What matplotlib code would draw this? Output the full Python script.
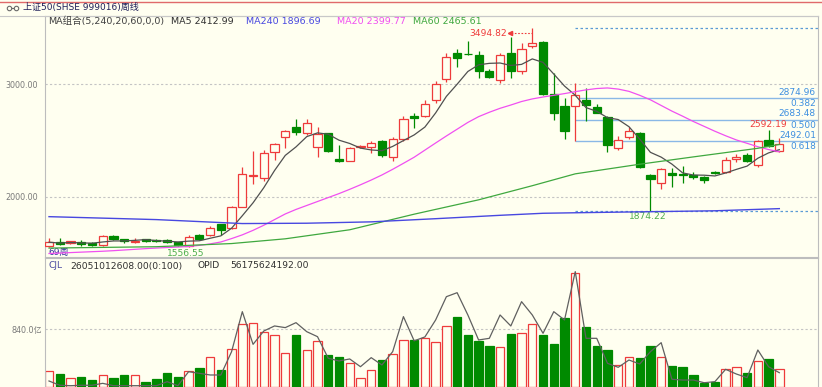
import matplotlib
matplotlib.use('Agg')
import matplotlib.pyplot as plt
from matplotlib.lines import Line2D
import numpy as np
import pandas as pd

plt.rcParams['font.family'] = ['DejaVu Sans', 'Noto Sans CJK SC']

# weekly candles, 上证50 (69 weeks)
opens = [1565, 1605, 1590, 1605, 1597, 1575, 1655, 1625, 1605, 1625,
         1622, 1617, 1600, 1566, 1660, 1664, 1758, 1723, 1914, 2190,
         2166, 2396, 2534, 2617, 2569, 2445, 2564, 2333, 2319, 2440,
         2445, 2498, 2351, 2511, 2717, 2717, 2862, 3042, 3277, 3268,
         3257, 3118, 3035, 3271, 3118, 3336, 3369, 2911, 2805, 2805,
         2858, 2799, 2705, 2431, 2528, 2564, 2195, 2127, 2210, 2205,
         2195, 2174, 2225, 2224, 2339, 2372, 2283, 2504, 2410]
highs = [1635, 1635, 1610, 1620, 1600, 1660, 1665, 1632, 1635, 1630,
         1628, 1625, 1605, 1665, 1670, 1746, 1765, 1920, 2263, 2410,
         2416, 2480, 2590, 2690, 2688, 2617, 2570, 2460, 2440, 2460,
         2500, 2505, 2535, 2715, 2740, 2858, 3030, 3271, 3310, 3380,
         3295, 3130, 3270, 3413, 3360, 3494.82, 3380, 3095, 2873, 3006,
         2962, 2823, 2715, 2540, 2622, 2575, 2200, 2260, 2254, 2274,
         2220, 2185, 2232, 2355, 2380, 2385, 2505, 2592.19, 2522]
lows = [1560, 1575, 1585, 1570, 1565, 1570, 1620, 1595, 1590, 1605,
        1605, 1590, 1565, 1556.55, 1620, 1655, 1665, 1715, 1910, 2115,
        2144, 2330, 2436, 2549, 2550, 2357, 2400, 2310, 2315, 2430,
        2387, 2355, 2321, 2500, 2610, 2705, 2835, 3020, 3148, 3255,
        3050, 3050, 3006, 3050, 3088, 3316, 2900, 2681, 2511, 2492,
        2675, 2740, 2401, 2416, 2515, 2260, 1874.22, 2068, 2086, 2121,
        2160, 2121, 2205, 2215, 2312, 2310, 2262, 2440, 2401]
closes = [1600, 1585, 1607, 1585, 1578, 1655, 1630, 1608, 1612, 1610,
          1612, 1602, 1575, 1648, 1626, 1723, 1708, 1914, 2201, 2198,
          2392, 2466, 2584, 2578, 2652, 2557, 2407, 2321, 2431, 2448,
          2475, 2374, 2511, 2688, 2699, 2823, 3000, 3242, 3227, 3262,
          3118, 3065, 3257, 3118, 3310, 3360, 2911, 2741, 2587, 2903,
          2814, 2746, 2460, 2504, 2587, 2268, 2157, 2248, 2195, 2198,
          2174, 2150, 2214, 2327, 2357, 2319, 2498, 2451, 2469]

# volume (亿) and the grey line of the lower panel
vols = [236, 184, 135, 140, 106, 169, 126, 179, 169, 77,
        116, 198, 150, 236, 280, 439, 251, 546, 908, 922,
        792, 753, 497, 753, 536, 667, 464, 435, 343, 126,
        251, 391, 483, 681, 686, 712, 656, 888, 1019, 753,
        667, 599, 584, 768, 778, 913, 758, 623, 995, 1648,
        874, 594, 536, 319, 430, 416, 594, 439, 309, 294,
        174, 62, 77, 256, 294, 207, 377, 401, 260.5]
opid = [87, 25, 19, 25, 25, 53, 19, 19, 19, 19,
        19, 77, 19, 222, 198, 174, 174, 512, 1091, 618,
        811, 884, 860, 932, 801, 729, 416, 377, 406, 294,
        425, 319, 512, 1019, 669, 725, 971, 1308, 1366, 1043,
        681, 705, 1043, 884, 1236, 1043, 778, 1091, 971, 1671,
        705, 705, 343, 285, 391, 333, 512, 642, 112, 101,
        101, 62, 77, 256, 188, 135, 536, 294, 207]

# long moving averages
ma20 = [1500, 1504, 1508, 1512, 1516, 1520, 1525, 1531, 1537, 1543,
        1548, 1553, 1557, 1562, 1572, 1585, 1602, 1632, 1665, 1705,
        1750, 1800, 1850, 1890, 1925, 1960, 1995, 2030, 2068, 2108,
        2150, 2195, 2245, 2298, 2352, 2415, 2478, 2540, 2600, 2660,
        2711, 2750, 2785, 2814, 2845, 2868, 2885, 2900, 2915, 2932,
        2948, 2960, 2965, 2955, 2935, 2900, 2860, 2810, 2760, 2715,
        2668, 2625, 2582, 2542, 2505, 2475, 2445, 2420, 2400]
ma60_wk = [0, 10, 17, 22, 28, 34, 40, 45, 49, 55, 60, 66, 68]
ma60_val = [1548, 1560, 1588, 1630, 1710, 1848, 1975, 2100, 2205, 2290, 2355,
            2431, 2465]
ma240_wk = [0, 10, 18, 24, 30, 36, 42, 46, 50, 56, 62, 68]
ma240_val = [1826, 1800, 1765, 1768, 1780, 1808, 1838, 1856, 1862, 1870, 1878,
             1897]

fib_ratios = ['0.382', '0.500', '0.618']
fib_values = [2874.96, 2683.48, 2492.01]
fib_start = 49

W, H = 822, 387
BG = '#fffff0'
RED = '#ee3b3b'
GREEN = '#008a00'
GRID = '#c4c4c4'

weeks = np.arange(len(closes))
o, h, l, c = map(np.array, (opens, highs, lows, closes))
up = c >= o
ma5 = pd.Series(closes).rolling(5, min_periods=1).mean()

fig = plt.figure(figsize=(W / 100, H / 100), dpi=100, facecolor=BG)


def fx(px):
    return px / W


def fy(py):
    return 1 - py / H


def ftext(px, py, s, color, size, ha='left'):
    fig.text(fx(px), fy(py), s, color=color, fontsize=size, ha=ha, va='center')


# pixel scale of the price panel
PX_K = 1 / 10.74
PX_P = 1000 / 113
ax = fig.add_axes([fx(45), fy(257), fx(818) - fx(45), fy(16) - fy(257)])
axv = fig.add_axes([fx(45), 0, fx(818) - fx(45), fy(258)])
xmin, xmax = -4 * PX_K, (818 - 49) * PX_K
for a in (ax, axv):
    a.set_facecolor(BG)
    a.set_xlim(xmin, xmax)
    a.set_xticks([])
    for s in a.spines.values():
        s.set_color('#bdbdbd')
        s.set_linewidth(0.8)
axv.spines['bottom'].set_visible(False)
ax.set_ylim(2000 - 60 * PX_P, 2000 + 181 * PX_P)

# candles
faces = np.where(up, BG, GREEN)
edges = np.where(up, RED, GREEN)
ax.vlines(weeks, l, h, colors=edges, lw=0.9, zorder=2)
ax.bar(weeks, np.abs(c - o), bottom=np.minimum(o, c), width=0.76,
       color=faces, edgecolor=edges, linewidth=0.9, zorder=3)

ax.plot(weeks, ma5, color='#505050', lw=0.9, zorder=4)
ax.plot(weeks, ma20, color='#f050f0', lw=0.9, zorder=4)
ax.plot(ma60_wk, ma60_val, color='#3fa83f', lw=0.9, zorder=4)
ax.plot(ma240_wk, ma240_val, color='#4848e0', lw=1.0, zorder=4)

for lv in (2000, 3000):
    ax.axhline(lv, color=GRID, lw=0.8, ls=(0, (2, 2)), zorder=1)
ax.set_yticks([2000, 3000])
ax.set_yticklabels(['2000.00', '3000.00'])
ax.tick_params(axis='y', length=0, pad=5, labelsize=5.8, labelcolor='#7a7a7a')

# golden section lines
hi_i = int(np.argmax(h))
lo_i = int(np.argmin(l[hi_i:])) + hi_i
ax.hlines([h[hi_i], l[lo_i]], fib_start, xmax, colors='#5b9bd5', lw=0.9,
          linestyles=(0, (2, 2)), zorder=1)
ax.hlines(fib_values, fib_start, xmax, colors='#8ab8e6', lw=1.0, zorder=1)
for v, r in zip(fib_values, fib_ratios):
    ax.annotate(f'{v:.2f}', (xmax, v), xytext=(-1.5, 4.4), textcoords='offset points',
                ha='right', va='center', fontsize=6.5, color='#3d8fe0')
    ax.annotate(r, (xmax, v), xytext=(-1.5, -4.0), textcoords='offset points',
                ha='right', va='center', fontsize=6.5, color='#3d8fe0')

# extreme markers
ya = h[hi_i] - 5 * PX_P
ax.plot([hi_i - 21 * PX_K, hi_i], [ya, ya], color=RED, lw=0.8, ls=(0, (1.5, 1.5)))
ax.plot([hi_i - 22 * PX_K], [ya], marker='<', ms=3, color=RED)
ax.text(hi_i - 25 * PX_K, ya, f'{h[hi_i]:.2f}', color=RED, fontsize=6.6,
        ha='right', va='center')
lo0 = int(np.argmin(l[:hi_i]))
ax.text(lo0 - 2.6 * PX_K, l[lo0] - 6 * PX_P, f'{l[lo0]:.2f}', color='#4cae4c',
        fontsize=6.6, ha='center', va='center')
ax.text(lo_i - 3 * PX_K, l[lo_i] - 5.5 * PX_P, f'{l[lo_i]:.2f}', color='#4cae4c',
        fontsize=6.6, ha='center', va='center')
last_hi = len(h) - 2
ax.text(last_hi, h[last_hi] + 6 * PX_P, f'{h[last_hi]:.2f}', color=RED,
        fontsize=6.6, ha='center', va='center')
ax.text(xmin + 3 * PX_K, 2000 - 55.5 * PX_P, f'{len(weeks)}周', color='#2e2e9a',
        fontsize=6.5, ha='left', va='center')

# volume panel
axv.set_ylim(0, 129 * 840 / 58)
axv.bar(weeks, vols, width=0.78, color=faces, edgecolor=edges, linewidth=0.9,
        zorder=2)
axv.plot(weeks, opid, color='#606060', lw=0.9, zorder=3)
axv.axhline(840, color=GRID, lw=0.8, ls=(0, (2, 2)), zorder=1)
axv.set_yticks([840])
axv.set_yticklabels(['840.0亿'])
axv.tick_params(axis='y', length=0, pad=2, labelsize=5.8, labelcolor='#7a7a7a')

# header texts
fig.add_artist(Line2D([0, 1], [fy(1.5), fy(1.5)], color='#e06a6a', lw=1.0))
fig.add_artist(Line2D([0, fx(818)], [fy(15.5), fy(15.5)], color='#c8c8c8', lw=0.8))
fig.add_artist(Line2D([fx(9), fx(16)], [fy(7.5), fy(7.5)], color='#6a6a6a', lw=0.8,
                      marker='o', ms=3.2, mfc=BG, mec='#6a6a6a', mew=0.8))
ftext(23, 7.5, '上证50(SHSE 999016)周线', '#20205a', 6.5)
ftext(48, 21.5, 'MA组合(5,240,20,60,0,0)', '#404040', 6.8)
ftext(171, 21.5, 'MA5 2412.99', '#303030', 6.8)
ftext(246, 21.5, 'MA240 1896.69', '#4848e0', 6.8)
ftext(337, 21.5, 'MA20 2399.77', '#f050f0', 6.8)
ftext(413, 21.5, 'MA60 2465.61', '#3fa83f', 6.8)
ftext(48, 266, 'CJL', '#4a4aa0', 6.6)
ftext(70, 266, '26051012608.00(0:100)', '#303030', 6.6)
ftext(197, 266, 'OPID', '#303030', 6.6)
ftext(230, 266, '56175624192.00', '#303030', 6.6)

fig.savefig('out.png', dpi=100, facecolor=BG)
